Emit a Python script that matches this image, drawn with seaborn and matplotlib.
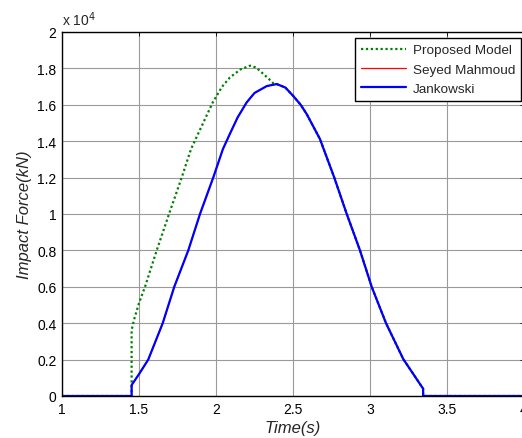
import matplotlib
matplotlib.use("Agg")
import matplotlib.pyplot as plt
import seaborn as sns
import pandas as pd

# ---- data (force in units of 10^4 kN) ----
time_proposed = [1.0, 1.452, 1.452, 1.458, 1.468, 1.50, 1.539, 1.615, 1.695, 1.777, 1.838,
                 1.90, 1.98, 2.04, 2.09, 2.16, 2.221, 2.26, 2.30, 2.34, 2.372, 2.394,
                 2.45, 2.50, 2.55, 2.589, 2.675, 2.768, 2.849, 2.935, 3.011, 3.104,
                 3.195, 3.216, 3.303, 3.345, 3.345, 4.0]
force_proposed = [0.0, 0.0, 0.36, 0.385, 0.42, 0.51, 0.60, 0.80, 1.00, 1.20, 1.357,
                  1.47, 1.615, 1.70, 1.75, 1.795, 1.815, 1.805, 1.775, 1.745, 1.718, 1.714,
                  1.695, 1.65, 1.60, 1.549, 1.412, 1.20, 1.00, 0.80, 0.60, 0.40,
                  0.24, 0.203, 0.093, 0.04, 0.0, 0.0]

time_jank = [1.0, 1.452, 1.452, 1.50, 1.56, 1.654, 1.729, 1.82, 1.896, 1.982, 2.045,
             2.09, 2.14, 2.199, 2.25, 2.33, 2.394, 2.45, 2.50, 2.55, 2.589, 2.675,
             2.768, 2.849, 2.935, 3.011, 3.104, 3.195, 3.216, 3.303, 3.345, 3.345, 4.0]
force_jank = [0.0, 0.0, 0.06, 0.12, 0.20, 0.40, 0.60, 0.80, 1.00, 1.20, 1.357,
              1.44, 1.53, 1.613, 1.665, 1.703, 1.714, 1.695, 1.65, 1.60, 1.549, 1.412,
              1.20, 1.00, 0.80, 0.60, 0.40, 0.24, 0.203, 0.093, 0.04, 0.0, 0.0]

time_seyed = list(time_jank)
force_seyed = list(force_jank)

labels = ["Proposed Model", "Seyed Mahmoud", "Jankowski"]
x_ticks = [1, 1.5, 2, 2.5, 3, 3.5, 4]
x_tick_labels = ["1", "1.5", "2", "2.5", "3", "3.5", "4"]
y_ticks = [0, 0.2, 0.4, 0.6, 0.8, 1.0, 1.2, 1.4, 1.6, 1.8, 2.0]
y_tick_labels = ["0", "0.2", "0.4", "0.6", "0.8", "1", "1.2", "1.4", "1.6", "1.8", "2"]

sns.set_style("white")
plt.rcParams["font.family"] = ["Liberation Sans", "DejaVu Sans"]

fig = plt.figure(figsize=(5.22, 4.39), dpi=100)
ax = fig.add_axes([62 / 522, (439 - 397) / 439, 462 / 522, 364 / 439])

df_p = pd.DataFrame({"t": time_proposed, "f": force_proposed})
df_s = pd.DataFrame({"t": time_seyed, "f": force_seyed})
df_j = pd.DataFrame({"t": time_jank, "f": force_jank})

colors = ["#008000", "#ff0000", "#0000ff"]
widths = [1.6, 0.9, 1.6]
styles = [(0, (1, 1.2)), "-", "-"]
handles = []
for df, c, w, ls in zip([df_p, df_s, df_j], colors, widths, styles):
    n0 = len(ax.lines)
    sns.lineplot(data=df, x="t", y="f", estimator=None, sort=False, ax=ax,
                 legend=False, color=c, linewidth=w, linestyle=ls)
    line = ax.lines[n0]
    line.set_color(c)
    handles.append(line)

ax.set_xlim(1, 4)
ax.set_ylim(0, 2)
ax.set_xticks(x_ticks)
ax.set_xticklabels(x_tick_labels)
ax.set_yticks(y_ticks)
ax.set_yticklabels(y_tick_labels)
ax.grid(True, color="#9a9a9a", linewidth=0.8, linestyle="-")
ax.tick_params(direction="in", top=True, right=True, length=3, width=0.6,
               labelsize=10, pad=4, colors="black")
for s in ax.spines.values():
    s.set_color("black")
    s.set_linewidth(1.0)

ax.set_xlabel("Time(s)", fontsize=12, style="italic", labelpad=3)
ax.set_ylabel("Impact Force(kN)", fontsize=12, style="italic", labelpad=4)
ax.text(0.0, 1.01, r"x 10$^4$", transform=ax.transAxes, fontsize=10,
        ha="left", va="bottom")

leg = ax.legend(handles, labels, loc="upper right",
                bbox_to_anchor=(521 / 522, 1 - 39 / 439),
                bbox_transform=fig.transFigure, borderaxespad=0, fontsize=9.7,
                frameon=True, fancybox=False, edgecolor="black", framealpha=1,
                handlelength=3.3, handletextpad=0.5, labelspacing=0.5,
                borderpad=0.45)
leg.get_frame().set_linewidth(1.0)

fig.savefig("out.png", dpi=100)
